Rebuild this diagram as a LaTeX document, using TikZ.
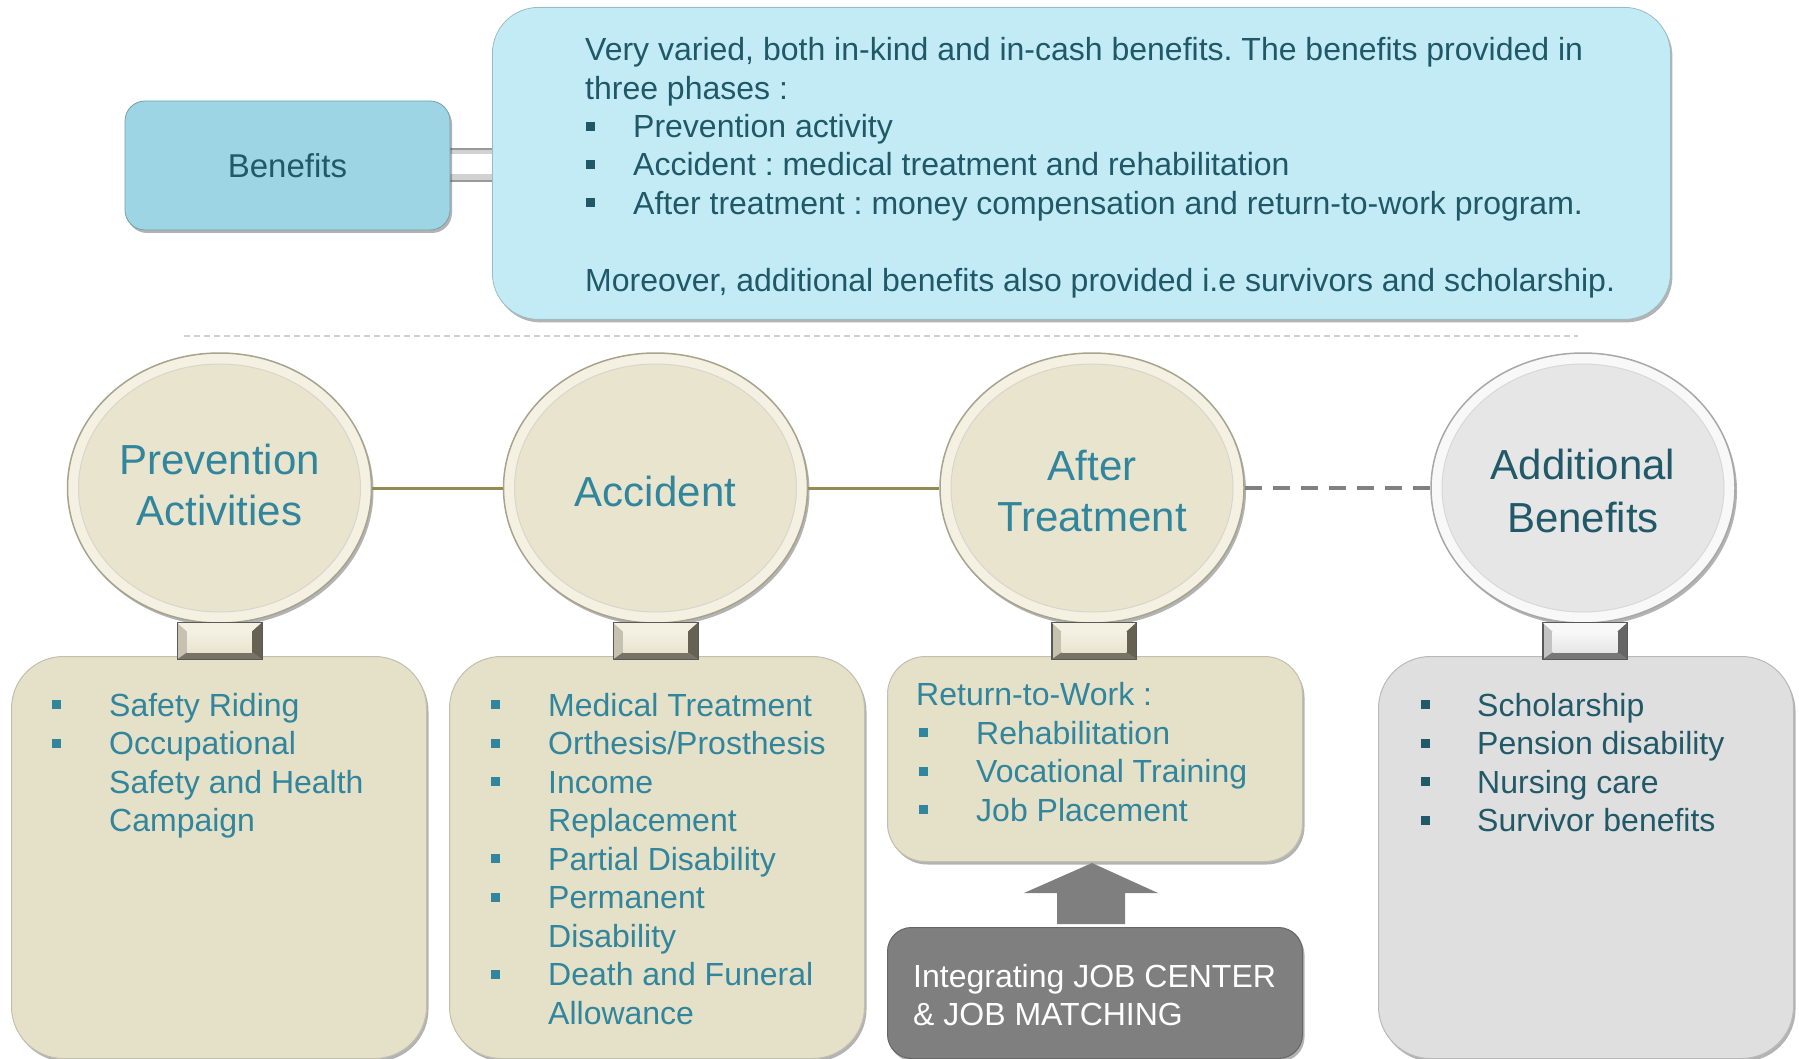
\documentclass[tikz,border=0pt]{standalone}
\usepackage{fontspec}
\setmainfont{Liberation Sans}
\usetikzlibrary{shapes.geometric,shadows,calc}
\frenchspacing

\definecolor{tealtxt}{HTML}{31859C}
\definecolor{darkteal}{HTML}{215968}
\definecolor{topteal}{HTML}{1F5867}
\definecolor{beigebox}{HTML}{E5E0C8}
\definecolor{beigein}{HTML}{E9E4CE}
\definecolor{beigerim}{HTML}{F4F1E3}
\definecolor{beigeline}{HTML}{A8A38C}
\definecolor{grayboxc}{HTML}{DFDFDF}
\definecolor{grayin}{HTML}{E6E6E6}
\definecolor{grayrim}{HTML}{F8F8F8}
\definecolor{grayline}{HTML}{A8A8A8}
\definecolor{darkbox}{HTML}{7F7F7F}
\definecolor{bfblue}{HTML}{9DD5E4}
\definecolor{bigblue}{HTML}{C3EBF5}
\definecolor{oliveline}{HTML}{948A54}
\definecolor{sepgray}{HTML}{D0D0D0}

\newcommand{\bul}[1]{\makebox[#1][l]{\raisebox{7pt}{\rule{9pt}{9pt}}}}

\tikzset{
  txt/.style={anchor=base west, inner sep=0pt, font=\fontsize{32}{38.4}\selectfont},
  toptxt/.style={txt, text=topteal},
  btxt/.style={txt, text=tealtxt},
  gtxt/.style={txt, text=darkteal},
  wtxt/.style={txt, text=white},
  elabel/.style={anchor=base, inner sep=0pt, font=\fontsize{42}{50}\selectfont},
  shad/.style={drop shadow={shadow xshift=2pt, shadow yshift=-3pt, opacity=0.4, fill=black!75}},
  ellout/.style={ellipse, minimum width=304pt, minimum height=270pt, inner sep=0pt, line width=1.5pt, shad},
  ellin/.style={ellipse, minimum width=282pt, minimum height=248pt, inner sep=0pt, line width=1pt},
  tallbox/.style={rectangle, rounded corners=52pt, minimum width=415pt, minimum height=402pt, anchor=north west, inner sep=0pt, line width=1pt, shad},
  tabout/.style={rectangle, minimum width=84pt, minimum height=36pt, inner sep=0pt, draw=black!65, line width=0.8pt},
}

% tab: #1 name, #2 x, #3 light, #4 mid, #5 dark, #6 face
\newcommand{\drawtab}[6]{%
  \node[tabout, fill=#4] (#1) at (#2,641) {};
  \fill[#3] (#1.north west) -- (#1.north east) -- ($(#1.north east)+(-10,9)$) -- ($(#1.north west)+(10,9)$) -- cycle;
  \fill[#5] (#1.north east) -- (#1.south east) -- ($(#1.south east)+(-10,-7)$) -- ($(#1.north east)+(-10,9)$) -- cycle;
  \fill[#5!70!#4] (#1.south west) -- (#1.south east) -- ($(#1.south east)+(-10,-7)$) -- ($(#1.south west)+(10,-7)$) -- cycle;
  \shade[top color=#3, bottom color=#6] ($(#1.north west)+(10,9)$) rectangle ($(#1.south east)+(-10,-7)$);
  \draw[black!65, line width=0.8pt] (#1.north west) rectangle (#1.south east);
}

\begin{document}
\begin{tikzpicture}[x=1pt,y=-1pt]
\useasboundingbox (0,0) rectangle (1799,1059);

% ---------- top part ----------
\coordinate (barA) at (440,148);
\coordinate (barB) at (500,182);
\fill[black!40] (barA) rectangle (barB);
\fill[black!18] ($(barA)+(0,2)$) rectangle ($(barB)+(0,-2)$);
\fill[white] ($(barA)+(0,6)$) rectangle ($(barB)+(0,-8)$);

\node[rectangle, rounded corners=20pt, minimum width=325pt, minimum height=129pt, inner sep=0pt,
      fill=bfblue, draw=bfblue!75!black, line width=0.8pt, shad,
      text=darkteal, font=\fontsize{33}{40}\selectfont] (bf) at (287.5,165.5) {Benefits};
\node[rectangle, rounded corners=46pt, minimum width=1178pt, minimum height=312pt, inner sep=0pt,
      anchor=north west, fill=bigblue, draw=bigblue!80!black, line width=0.8pt, shad] (big) at (492,7) {};

\node[toptxt] (tl0) at (585,61) {Very varied, both in-kind and in-cash benefits. The benefits provided in};
\node[toptxt] (tl1) at (585,99.3) {three phases :};
\node[toptxt] (tl2) at (586,137.6) {\bul{47pt}Prevention activity};
\node[toptxt] (tl3) at (586,176) {\bul{47pt}Accident : medical treatment and rehabilitation};
\node[toptxt] (tl4) at (586,214.3) {\bul{47pt}After treatment : money compensation and return-to-work program.};
\node[toptxt] (tl5) at (585,291) {Moreover, additional benefits also provided i.e survivors and scholarship.};

\draw[sepgray, line width=1.5pt, dash pattern=on 6pt off 4pt] (184,336) -- (1578,336);

% ---------- ellipses ----------
\node[ellout, fill=beigerim, draw=beigeline] (e1) at (219.5,488) {};
\node[ellin, fill=beigein, draw=beigeline!45!white] (e1i) at (e1.center) {};
\node[ellout, fill=beigerim, draw=beigeline] (e2) at (655.5,488) {};
\node[ellin, fill=beigein, draw=beigeline!45!white] (e2i) at (e2.center) {};
\node[ellout, fill=beigerim, draw=beigeline] (e3) at (1092,488) {};
\node[ellin, fill=beigein, draw=beigeline!45!white] (e3i) at (e3.center) {};
\node[ellout, fill=grayrim, draw=grayline] (e4) at (1583,488) {};
\node[ellin, fill=grayin, draw=grayline!45!white] (e4i) at (e4.center) {};

\draw[oliveline, line width=3pt] (e1) -- (e2);
\draw[oliveline, line width=3pt] (e2) -- (e3);
\draw[black!50, line width=4pt, dash pattern=on 17pt off 11pt] (e3) -- (e4);

\node[elabel, text=tealtxt] (l1a) at (219.5,474) {Prevention};
\node[elabel, text=tealtxt] (l1b) at (219.5,525) {Activities};
\node[elabel, text=tealtxt] (l2a) at (655.5,506) {Accident};
\node[elabel, text=tealtxt] (l3a) at (1092,480) {After};
\node[elabel, text=tealtxt] (l3b) at (1092,531) {Treatment};
\node[elabel, text=darkteal] (l4a) at (1583,479) {Additional};
\node[elabel, text=darkteal] (l4b) at (1583,532) {Benefits};

% ---------- lower boxes ----------
\node[tallbox, fill=beigebox, draw=beigeline!70!white] (b1) at (11,656) {};
\node[tallbox, fill=beigebox, draw=beigeline!70!white] (b2) at (449,656) {};
\node[tallbox, rounded corners=38pt, minimum height=205pt, fill=beigebox, draw=beigeline!70!white] (b3) at (887,656) {};
\node[tallbox, rounded corners=24pt, minimum height=131pt, fill=darkbox, draw=black!60] (jc) at (887,927) {};
\node[tallbox, fill=grayboxc, draw=grayline!80!white] (b4) at (1378,656) {};

% tabs
\drawtab{tb1}{219.5}{beigerim}{beigein!85!black}{beigeline!60!black}{beigein}
\drawtab{tb2}{655.5}{beigerim}{beigein!85!black}{beigeline!60!black}{beigein}
\drawtab{tb3}{1094}{beigerim}{beigein!85!black}{beigeline!60!black}{beigein}
\drawtab{tb4}{1585}{grayrim}{grayin!85!black}{grayline!60!black}{grayin}

% arrow
\fill[darkbox] (1092,863) -- (1158,893) -- (1125,893) -- (1125,924) -- (1057,924) -- (1057,893) -- (1024,893) -- cycle;

% box 1 text
\node[btxt] (p1) at (52,716) {\bul{57pt}Safety Riding};
\node[btxt] (p2) at (52,754.5) {\bul{57pt}Occupational};
\node[btxt] (p3) at (109,793) {Safety and Health};
\node[btxt] (p4) at (109,831.5) {Campaign};

% box 2 text
\node[btxt] (a1) at (491,716) {\bul{57pt}Medical Treatment};
\node[btxt] (a2) at (491,754.5) {\bul{57pt}Orthesis/Prosthesis};
\node[btxt] (a3) at (491,793) {\bul{57pt}Income};
\node[btxt] (a4) at (548,831.5) {Replacement};
\node[btxt] (a5) at (491,870) {\bul{57pt}Partial Disability};
\node[btxt] (a6) at (491,908.5) {\bul{57pt}Permanent};
\node[btxt] (a7) at (548,947) {Disability};
\node[btxt] (a8) at (491,985.5) {\bul{57pt}Death and Funeral};
\node[btxt] (a9) at (548,1024) {Allowance};

% box 3 text
\node[btxt] (r0) at (916,705.5) {Return-to-Work :};
\node[btxt] (r1) at (919,744) {\bul{57pt}Rehabilitation};
\node[btxt] (r2) at (919,782.5) {\bul{57pt}Vocational Training};
\node[btxt] (r3) at (919,821) {\bul{57pt}Job Placement};

% job center text
\node[wtxt] (j1) at (913,987) {Integrating JOB CENTER};
\node[wtxt] (j2) at (913,1025) {\& JOB MATCHING};

% box 4 text
\node[gtxt] (s1) at (1421,716) {\bul{56pt}Scholarship};
\node[gtxt] (s2) at (1421,754.5) {\bul{56pt}Pension disability};
\node[gtxt] (s3) at (1421,793) {\bul{56pt}Nursing care};
\node[gtxt] (s4) at (1421,831.5) {\bul{56pt}Survivor benefits};

\end{tikzpicture}
\end{document}
